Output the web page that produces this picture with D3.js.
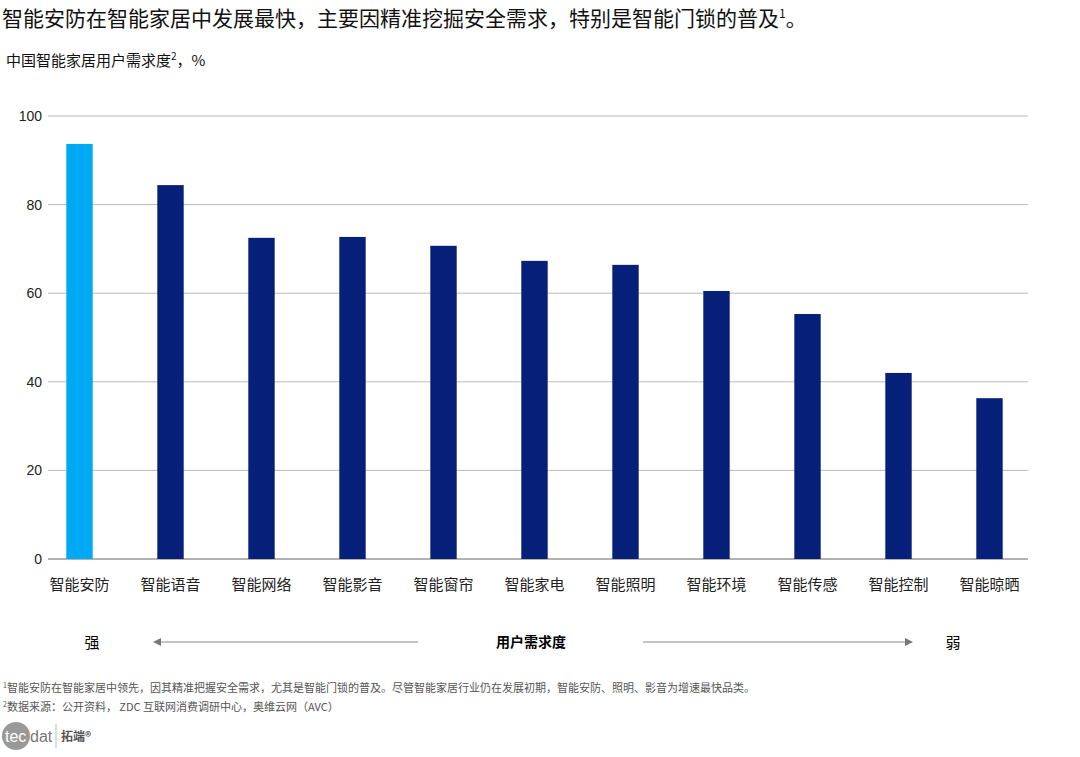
<!DOCTYPE html>
<html><head><meta charset="utf-8">
<script src="https://cdn.jsdelivr.net/npm/d3@7"></script>
<style>body{margin:0;background:#fff;font-family:"Noto Sans CJK SC","Liberation Sans",sans-serif}</style>
</head><body><svg id="c" width="1080" height="757"></svg>
<script>
const categories=["智能安防","智能语音","智能网络","智能影音","智能窗帘","智能家电","智能照明","智能环境","智能传感","智能控制","智能晾晒"];
const values=[93.7,84.4,72.5,72.7,70.7,67.3,66.4,60.5,55.3,42.0,36.3];
const yTicks=[0,20,40,60,80,100];
const svg=d3.select("#c");
const F='"Noto Sans CJK SC",sans-serif';
svg.append("text").attr("x",2).attr("y",26).attr("font-size",21).attr("font-family",F).attr("fill","#111")
 .text("智能安防在智能家居中发展最快，主要因精准挖掘安全需求，特别是智能门锁的普及").append("tspan").attr("font-size",12).attr("dy",-8).text("1")
 .append("tspan").attr("font-size",21).attr("dy",8).text("。");
const st=svg.append("text").attr("x",6).attr("y",66).attr("font-size",15).attr("font-family",F).attr("fill","#111").text("中国智能家居用户需求度");
st.append("tspan").attr("font-size",10).attr("dy",-6).text("2");
st.append("tspan").attr("font-size",15).attr("dy",6).text("，%");
const x=d3.scaleBand().domain(categories).range([34,1035]).paddingInner(0.71).paddingOuter(0.355);
const y=d3.scaleLinear().domain([0,100]).range([559,116]);
const g=svg.append("g");
g.selectAll("line.grid").data(yTicks).join("line").attr("x1",48).attr("x2",1028)
 .attr("y1",d=>y(d)).attr("y2",d=>y(d)).attr("stroke",d=>d===0?"#666":"#bbb").attr("stroke-width",1);
g.selectAll("text.yt").data(yTicks).join("text").attr("x",42).attr("y",d=>y(d)+5).attr("text-anchor","end")
 .attr("font-size",14).attr("font-family","Liberation Sans,Arial").attr("fill","#222").text(d=>d);
g.selectAll("rect").data(values).join("rect").attr("x",(d,i)=>x(categories[i])).attr("width",x.bandwidth())
 .attr("y",d=>y(d)).attr("height",d=>y(0)-y(d)).attr("fill",(d,i)=>i===0?"#00a9f4":"#061f78");
g.selectAll("text.xl").data(categories).join("text").attr("x",d=>x(d)+x.bandwidth()/2).attr("y",590)
 .attr("text-anchor","middle").attr("font-size",15).attr("font-family",F).attr("fill","#222").text(d=>d);
svg.append("text").attr("x",92).attr("y",648).attr("text-anchor","middle").attr("font-size",15).attr("font-family",F).text("强");
svg.append("text").attr("x",953).attr("y",648).attr("text-anchor","middle").attr("font-size",15).attr("font-family",F).text("弱");
svg.append("text").attr("x",531).attr("y",647).attr("text-anchor","middle").attr("font-size",14).attr("font-weight","bold").attr("font-family",F).text("用户需求度");
svg.append("line").attr("x1",160).attr("x2",418).attr("y1",642).attr("y2",642).attr("stroke","#888");
svg.append("path").attr("d","M153,642 L161,638 L161,646Z").attr("fill","#777");
svg.append("line").attr("x1",643).attr("x2",906).attr("y1",642).attr("y2",642).attr("stroke","#888");
svg.append("path").attr("d","M913,642 L905,638 L905,646Z").attr("fill","#777");
const f1=svg.append("text").attr("x",3).attr("y",692).attr("font-size",11).attr("font-family",F).attr("fill","#555");
f1.append("tspan").attr("font-size",7).attr("dy",-4).text("1");
f1.append("tspan").attr("dy",4).text("智能安防在智能家居中领先，因其精准把握安全需求，尤其是智能门锁的普及。尽管智能家居行业仍在发展初期，智能安防、照明、影音为增速最快品类。");
const f2=svg.append("text").attr("x",3).attr("y",711).attr("font-size",11).attr("font-family",F).attr("fill","#555");
f2.append("tspan").attr("font-size",7).attr("dy",-4).text("2");
f2.append("tspan").attr("dy",4).text("数据来源：公开资料， ZDC 互联网消费调研中心，奥维云网（AVC）");
svg.append("circle").attr("cx",16).attr("cy",736).attr("r",14).attr("fill","#999");
svg.append("text").attr("x",5).attr("y",742).attr("font-size",16).attr("fill","#fff").attr("font-family","Liberation Sans").text("tec");
svg.append("text").attr("x",30).attr("y",742).attr("font-size",16).attr("fill","#777").attr("font-family","Liberation Sans").text("dat");
svg.append("line").attr("x1",56).attr("x2",56).attr("y1",724).attr("y2",748).attr("stroke","#bbb");
svg.append("text").attr("x",61).attr("y",741).attr("font-size",12).attr("font-weight","bold").attr("fill","#555").attr("font-family",F).text("拓端®");
</script></body></html>
